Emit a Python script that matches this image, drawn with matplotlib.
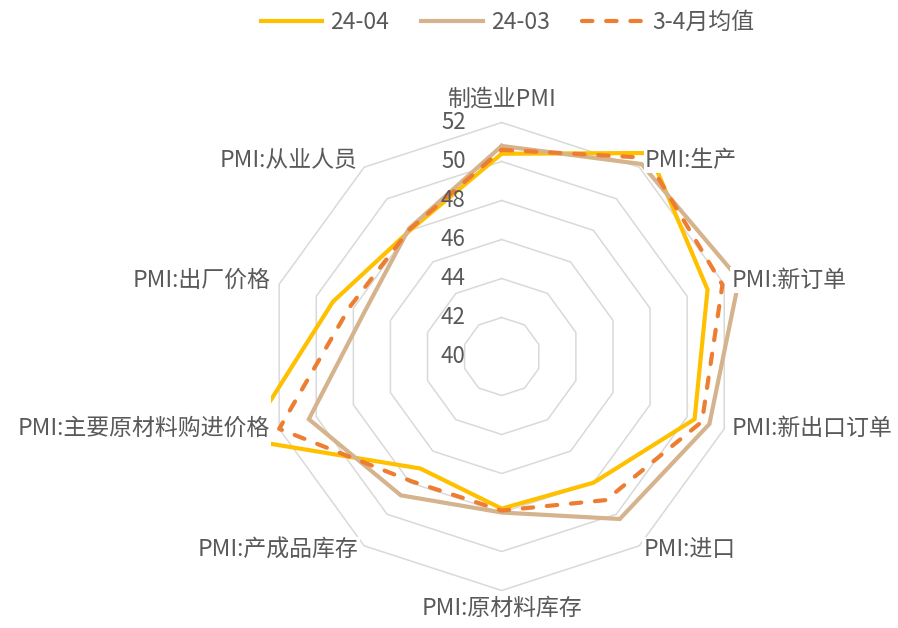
import numpy as np
import matplotlib
matplotlib.use('Agg')
import matplotlib.pyplot as plt
from matplotlib.lines import Line2D
from matplotlib.patches import Rectangle

plt.rcParams['font.family'] = ['Noto Sans CJK SC', 'DejaVu Sans']

# PMI sub-indices, Apr vs Mar 2024 and the Mar-Apr average
categories = ['制造业PMI', 'PMI:生产', 'PMI:新订单', 'PMI:新出口订单', 'PMI:进口',
              'PMI:原材料库存', 'PMI:产成品库存', 'PMI:主要原材料购进价格',
              'PMI:出厂价格', 'PMI:从业人员']
apr = [50.4, 52.9, 51.1, 50.4, 48.0, 47.8, 47.1, 53.8, 49.1, 48.0]
mar = [50.8, 52.2, 52.8, 51.2, 50.3, 48.0, 48.8, 50.4, 47.4, 48.1]
avg = [50.6, 52.6, 51.9, 50.8, 49.1, 47.9, 47.9, 52.0, 48.2, 48.05]
rings = [42, 44, 46, 48, 50, 52]
tick_vals = [40, 42, 44, 46, 48, 50, 52]

# label offsets (points) from the outer vertex of each spoke
label_pos = [(0, 17, 'center'), (4, 5, 'left'), (5, 3, 'left'), (5, 0.5, 'left'),
             (3, -3, 'left'), (0, -12.5, 'center'), (-4, -3, 'right'),
             (-6.5, 0.5, 'right'), (-6.5, 3, 'right'), (-5, 5, 'right')]

n = len(categories)
theta = np.linspace(0, 2 * np.pi, n, endpoint=False)
theta_c = np.append(theta, theta[0])

fig = plt.figure(figsize=(8.98, 6.28), dpi=100)
ax = fig.add_axes([0.2981, 0.0597, 0.5212, 0.7452], projection='polar')
ax.set_theta_zero_location('N')
ax.set_theta_direction(-1)
ax.set_ylim(40, 52)
ax.grid(False)
ax.spines['polar'].set_visible(False)
ax.set_xticks([])
ax.set_yticks([])
ax.patch.set_alpha(0)

for r in rings:
    ax.plot(theta_c, [r] * (n + 1), color='#d9d9d9', lw=1.1, zorder=1, clip_on=False)

def close(v):
    return list(v) + [v[0]]

ax.plot(theta_c, close(apr), color='#FFC000', lw=3, zorder=3, clip_on=False,
        solid_joinstyle='miter')
ax.plot(theta_c, close(mar), color='#D5B38D', lw=3, zorder=4, clip_on=False,
        solid_joinstyle='miter')
ax.plot(theta_c, close(avg), color='#ED7D31', lw=3, zorder=5, clip_on=False,
        dashes=(2.5, 3.3), dash_capstyle='round')

# white text frame of the long left label hides the overshooting line
ax.add_artist(Rectangle((0, 0.2803), 0.3018, 0.0892, transform=fig.transFigure,
                        fc='white', ec='none', zorder=8, clip_on=False))

for v in tick_vals:
    ax.annotate(str(v), xy=(0, v), xytext=(-26, 0), textcoords='offset points',
                ha='right', va='center', fontsize=16, color='#595959',
                annotation_clip=False, zorder=6)

for t, lab, (dx, dy, ha) in zip(theta, categories, label_pos):
    ax.annotate(lab, xy=(t, 52), xytext=(dx, dy), textcoords='offset points',
                ha=ha, va='center', fontsize=16.5, color='#595959',
                annotation_clip=False, zorder=10,
                bbox=dict(boxstyle='square,pad=0.05', fc='white', ec='none'))

handles = [Line2D([], [], color='#FFC000', lw=3),
           Line2D([], [], color='#D5B38D', lw=3),
           Line2D([], [], color='#ED7D31', lw=3, dashes=(2.5, 3.3), dash_capstyle='round')]
fig.legend(handles, ['24-04', '24-03', '3-4月均值'], loc='upper center',
           bbox_to_anchor=(0.565, 1.015), ncol=3, frameon=False, fontsize=16.5,
           handlelength=2.7, handletextpad=0.35, columnspacing=1.4,
           labelcolor='#595959')

fig.savefig('out.png', dpi=100)
